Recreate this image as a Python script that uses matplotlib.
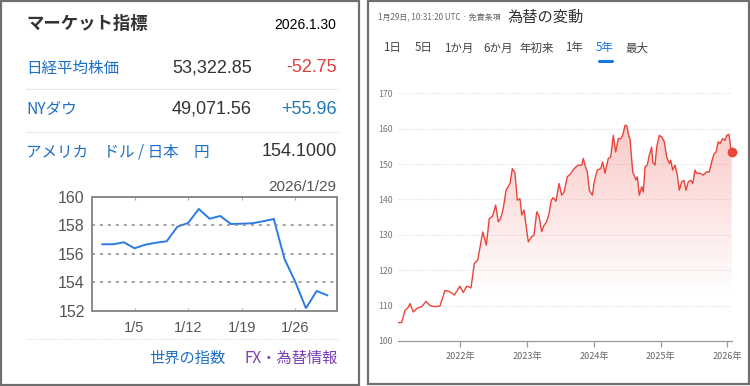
import matplotlib.pyplot as plt
import numpy as np
from matplotlib.patches import Rectangle

plt.rcParams['font.family'] = ['Noto Sans CJK JP', 'DejaVu Sans']

# left panel: USD/JPY daily, January 2026
jan_dates = ['12/31', '1/1', '1/2', '1/5', '1/6', '1/7', '1/8', '1/9', '1/12', '1/13', '1/14',
             '1/15', '1/16', '1/19', '1/20', '1/21', '1/22', '1/23', '1/26', '1/27', '1/28', '1/29']
jan_rate = [156.67, 156.67, 156.81, 156.39, 156.64, 156.78, 156.88, 157.90, 158.16, 159.14, 158.46,
            158.65, 158.09, 158.11, 158.14, 158.28, 158.44, 155.64, 154.05, 152.19, 153.40, 153.10]
jan_ticks = ['1/5', '1/12', '1/19', '1/26']
jan_yticks = [152, 154, 156, 158, 160]

# market rows
row_names = ['日経平均株価', 'NYダウ', 'アメリカ\u3000ドル / 日本\u3000円']
row_values = ['53,322.85', '49,071.56', '154.1000']
row_changes = ['-52.75', '+55.96', '']

# right panel: USD/JPY 5 years
yr_x = [2021.071, 2021.122, 2021.172, 2021.221, 2021.246, 2021.296, 2021.347, 2021.422, 2021.486,
        2021.546, 2021.621, 2021.696, 2021.771, 2021.846, 2021.910, 2021.995, 2022.045, 2022.096,
        2022.160, 2022.210, 2022.261, 2022.336, 2022.390, 2022.434, 2022.485, 2022.530, 2022.569,
        2022.605, 2022.644, 2022.685, 2022.745, 2022.779, 2022.819, 2022.854, 2022.894, 2022.920,
        2022.954, 2022.995, 2023.019, 2023.070, 2023.104, 2023.145, 2023.179, 2023.219, 2023.254,
        2023.294, 2023.329, 2023.363, 2023.393, 2023.434, 2023.479, 2023.519, 2023.554, 2023.603,
        2023.654, 2023.703, 2023.768, 2023.819, 2023.843, 2023.868, 2023.903, 2023.933, 2023.978,
        2024.007, 2024.052, 2024.103, 2024.133, 2024.168, 2024.217, 2024.253, 2024.292, 2024.328,
        2024.367, 2024.407, 2024.433, 2024.467, 2024.493, 2024.527, 2024.542, 2024.583, 2024.602,
        2024.632, 2024.652, 2024.682, 2024.718, 2024.742, 2024.767, 2024.801, 2024.831, 2024.867,
        2024.882, 2024.917, 2024.942, 2024.981, 2025.017, 2025.056, 2025.092, 2025.131, 2025.152,
        2025.182, 2025.216, 2025.251, 2025.281, 2025.317, 2025.351, 2025.381, 2025.416, 2025.452,
        2025.482, 2025.516, 2025.542, 2025.591, 2025.640, 2025.691, 2025.730, 2025.766, 2025.801,
        2025.831, 2025.865, 2025.891, 2025.931, 2025.966, 2025.991, 2026.025, 2026.055, 2026.066]
yr_rate = [105.2, 105.2, 108.7, 109.5, 110.6, 108.2, 109.2, 109.7, 111.2,
           110.0, 109.7, 109.9, 114.3, 113.9, 113.0, 115.5, 113.7, 115.5,
           115.0, 121.9, 122.9, 130.8, 127.1, 134.6, 135.3, 138.4, 133.7,
           134.6, 137.5, 142.6, 144.5, 148.7, 147.5, 139.8, 140.2, 135.6,
           137.0, 131.3, 128.0, 129.5, 129.9, 136.5, 135.3, 130.9, 132.7,
           133.7, 136.0, 139.8, 140.5, 139.5, 144.5, 141.2, 142.1, 146.4,
           147.3, 148.7, 149.7, 149.7, 151.6, 149.7, 147.8, 142.6, 141.2,
           145.0, 148.3, 148.7, 150.6, 147.4, 151.6, 152.0, 158.1, 153.4,
           157.2, 157.2, 158.1, 160.9, 160.9, 157.7, 157.2, 147.8, 146.9,
           145.5, 146.4, 141.2, 143.6, 142.1, 149.2, 149.7, 152.5, 154.8,
           150.6, 149.7, 154.8, 158.1, 157.7, 156.3, 152.0, 150.2, 151.1,
           148.3, 149.7, 146.9, 142.6, 145.0, 145.4, 142.6, 145.0, 145.4,
           144.5, 148.3, 147.4, 147.4, 146.9, 147.8, 147.8, 150.6, 152.9,
           153.4, 156.3, 155.8, 157.2, 156.7, 158.1, 158.4, 154.4, 153.4]
yr_ticks = [2022, 2023, 2024, 2025, 2026]
yr_yticks = [100, 110, 120, 130, 140, 150, 160, 170]
tabs = ['1日', '5日', '1か月', '6か月', '年初来', '1年', '5年', '最大']
tab_x = [392, 423.7, 458.7, 498, 537, 573.7, 605, 637.3]

W, H = 750, 386
fig = plt.figure(figsize=(7.5, 3.86), dpi=100)

# pixel canvas for borders and texts
cv = fig.add_axes([0, 0, 1, 1])
cv.set_xlim(0, W)
cv.set_ylim(H, 0)
cv.axis('off')

cv.add_patch(Rectangle((1, 1), 358, 384, fill=False, ec='#6f6f6f', lw=1.6))
cv.add_patch(Rectangle((367.5, 1), 381, 383, fill=False, ec='#6f6f6f', lw=1.6))

num = ['Liberation Sans', 'Noto Sans CJK JP']
blue = '#1f6fc5'
cv.text(26, 24, 'マーケット指標', fontsize=12.5, fontweight='bold', color='#333333', ha='left', va='center')
cv.text(336, 25, '2026.1.30', fontsize=10, family=num, color='black', ha='right', va='center')

row_y = [68, 109, 152]
chg_col = ['#d94141', '#1f7ab5', '#333333']
for i in range(3):
    cv.text(26, row_y[i], row_names[i], fontsize=11.2, color=blue, ha='left', va='center')
    if row_changes[i]:
        cv.text(252, row_y[i], row_values[i], fontsize=13, family=num, color='#333333', ha='right', va='center')
        cv.text(337, row_y[i], row_changes[i], fontsize=13, family=num, color=chg_col[i], ha='right', va='center')
    else:
        cv.text(337, row_y[i], row_values[i], fontsize=13, family=num, color='#333333', ha='right', va='center')
for y in [89.3, 131.7]:
    cv.plot([26, 338], [y, y], color='#e8e8e8', lw=0.8)

cv.text(336, 187, '2026/1/29', fontsize=11, family=num, color='#555555', ha='right', va='center')
cv.plot([26, 338], [339, 339], color='#e2e2e2', lw=0.8, ls=(0, (1, 1)))
cv.text(226, 358, '世界の指数', fontsize=11, color=blue, ha='right', va='center')
cv.text(338, 358, 'FX・為替情報', fontsize=11, color='#7b3fb5', ha='right', va='center')

# right header
cv.text(378, 17, '1月29日, 10:31:20 UTC · 免責条項', fontsize=5.8, color='#666666', ha='left', va='center')
cv.text(508, 17, '為替の変動', fontsize=11, color='#333333', ha='left', va='center')
for t, x in zip(tabs, tab_x):
    cv.text(x, 48, t, fontsize=8.3, color='#1a73e8' if t == '5年' else '#444444', ha='center', va='center')
cv.plot([598.5, 611.5], [60.7, 60.7], color='#1a73e8', lw=2.2, solid_capstyle='round')

# left chart
def box(x0, y0, x1, y1):
    return [x0 / W, 1 - y1 / H, (x1 - x0) / W, (y1 - y0) / H]

ax = fig.add_axes(box(91.7, 196.7, 337, 311))
xi = np.arange(len(jan_rate))
ax.plot(xi, jan_rate, color='#2a7be4', lw=1.4, solid_joinstyle='miter')
ax.set_xlim(-1.0, 21.9)
ax.set_ylim(152, 160)
ax.set_yticks(jan_yticks)
ax.set_xticks([jan_dates.index(d) for d in jan_ticks])
ax.set_xticklabels(jan_ticks)
for g in [154, 156, 158]:
    ax.axhline(g, color='#8a8a8a', lw=1.1, ls=(0, (2, 3.2)))
for s in ax.spines.values():
    s.set_color('#8a8a8a')
    s.set_linewidth(1.4)
ax.tick_params(axis='y', length=0, pad=5, labelsize=11.5, labelcolor='#555555')
ax.tick_params(axis='x', direction='in', length=2.5, color='#aaaaaa', top=True, pad=7,
               labelsize=10.5, labelcolor='#555555')
for lab in ax.get_xticklabels() + ax.get_yticklabels():
    lab.set_family(num)

# right chart
ax2 = fig.add_axes(box(398.3, 93.3, 731.7, 341))
ax2.set_xlim(2021.071, 2026.066)
ax2.set_ylim(100, 170)
red = '#e8453c'
poly = ax2.fill_between(yr_x, yr_rate, 100, color='none', lw=0)
grad = np.zeros((256, 1, 4))
grad[:, 0, :3] = [0.93, 0.33, 0.30]
yy = np.linspace(100, 170, 256)
grad[:, 0, 3] = np.clip((yy - 113) / (162 - 113), 0, 1) * 0.32
im = ax2.imshow(grad, extent=[2021.071, 2026.066, 100, 170], origin='lower', aspect='auto', zorder=1)
im.set_clip_path(poly.get_paths()[0], transform=ax2.transData)
ax2.plot(yr_x, yr_rate, color=red, lw=1.0, zorder=3)
ax2.plot(yr_x[-1], yr_rate[-1], 'o', color=red, ms=6, zorder=4, clip_on=False)
for g in yr_yticks[1:]:
    ax2.axhline(g, color='#e4e4e4', lw=0.8, ls=(0, (1, 1)), zorder=0)
for k in ['top', 'right', 'left']:
    ax2.spines[k].set_visible(False)
ax2.spines['bottom'].set_color('#9a9a9a')
ax2.spines['bottom'].set_linewidth(0.9)
ax2.set_yticks(yr_yticks)
ax2.set_xticks(yr_ticks)
ax2.set_xticklabels([f'{y}年' for y in yr_ticks])
ax2.tick_params(axis='y', length=0, pad=4, labelsize=6.3, labelcolor='#777777')
ax2.tick_params(axis='x', length=4, width=0.9, color='#9a9a9a', pad=4, labelsize=6.5, labelcolor='#666666')
ax2.set_facecolor('none')

fig.savefig('out.png', dpi=100)
